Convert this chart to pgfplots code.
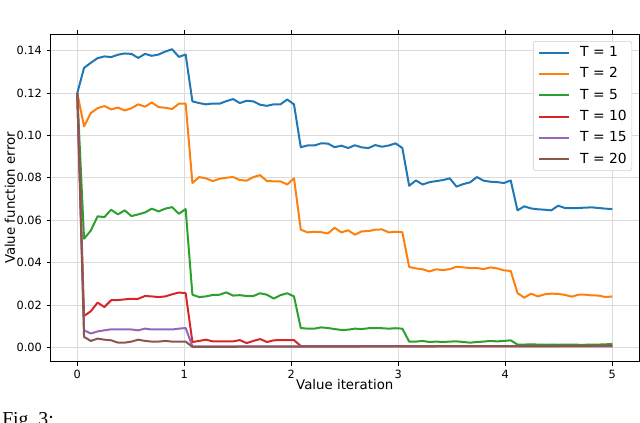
\documentclass[border=0pt]{standalone}
\usepackage{fontspec}
\setmainfont{DejaVu Sans}
\newfontfamily\capfont{Liberation Serif}
\usepackage{pgfplots}
\usepackage{pgfplotstable}
\pgfplotsset{compat=1.18}
\definecolor{cb}{HTML}{1F77B4}
\definecolor{co}{HTML}{FF7F0E}
\definecolor{cg}{HTML}{2CA02C}
\definecolor{cr}{HTML}{D62728}
\definecolor{cp}{HTML}{9467BD}
\definecolor{cw}{HTML}{8C564B}

\pgfplotstableread{
x b o g r p w
0.0000 0.1199 0.1199 0.1199 0.1199 0.1199 0.1199
0.0633 0.1318 0.1042 0.0512 0.0148 0.0080 0.0049
0.1266 0.1342 0.1105 0.0551 0.0170 0.0065 0.0030
0.1899 0.1364 0.1128 0.0618 0.0211 0.0075 0.0041
0.2532 0.1372 0.1138 0.0614 0.0190 0.0080 0.0036
0.3165 0.1369 0.1122 0.0649 0.0222 0.0085 0.0033
0.3797 0.1380 0.1131 0.0627 0.0223 0.0084 0.0022
0.4430 0.1386 0.1117 0.0646 0.0226 0.0085 0.0022
0.5063 0.1384 0.1128 0.0619 0.0229 0.0084 0.0027
0.5696 0.1365 0.1146 0.0627 0.0229 0.0080 0.0036
0.6329 0.1384 0.1135 0.0636 0.0242 0.0088 0.0030
0.6962 0.1375 0.1155 0.0654 0.0240 0.0084 0.0027
0.7595 0.1381 0.1133 0.0641 0.0237 0.0084 0.0027
0.8228 0.1395 0.1130 0.0654 0.0240 0.0085 0.0030
0.8861 0.1406 0.1124 0.0661 0.0250 0.0084 0.0027
0.9494 0.1370 0.1149 0.0630 0.0258 0.0088 0.0027
1.0127 0.1381 0.1150 0.0652 0.0256 0.0091 0.0027
1.0759 0.1160 0.0775 0.0248 0.0025 0.0005 0.0002
1.1392 0.1152 0.0803 0.0237 0.0030 0.0004 0.0002
1.2025 0.1146 0.0797 0.0240 0.0036 0.0004 0.0002
1.2658 0.1150 0.0784 0.0247 0.0028 0.0004 0.0002
1.3291 0.1149 0.0795 0.0248 0.0028 0.0004 0.0002
1.3924 0.1161 0.0800 0.0259 0.0028 0.0004 0.0002
1.4557 0.1171 0.0803 0.0244 0.0028 0.0004 0.0002
1.5190 0.1152 0.0789 0.0246 0.0034 0.0004 0.0003
1.5823 0.1163 0.0786 0.0242 0.0020 0.0004 0.0003
1.6456 0.1160 0.0803 0.0242 0.0030 0.0004 0.0003
1.7089 0.1144 0.0812 0.0255 0.0039 0.0004 0.0003
1.7722 0.1139 0.0784 0.0248 0.0025 0.0004 0.0003
1.8354 0.1146 0.0783 0.0230 0.0033 0.0004 0.0003
1.8987 0.1146 0.0783 0.0246 0.0034 0.0004 0.0003
1.9620 0.1169 0.0768 0.0255 0.0034 0.0004 0.0003
2.0253 0.1146 0.0797 0.0240 0.0034 0.0004 0.0003
2.0886 0.0944 0.0555 0.0091 0.0006 0.0004 0.0003
2.1519 0.0952 0.0542 0.0088 0.0005 0.0004 0.0003
2.2152 0.0952 0.0545 0.0088 0.0005 0.0004 0.0003
2.2785 0.0962 0.0543 0.0094 0.0005 0.0004 0.0003
2.3418 0.0961 0.0537 0.0091 0.0005 0.0004 0.0003
2.4051 0.0944 0.0564 0.0086 0.0005 0.0004 0.0003
2.4684 0.0951 0.0542 0.0082 0.0005 0.0004 0.0003
2.5316 0.0940 0.0552 0.0083 0.0005 0.0004 0.0003
2.5949 0.0953 0.0531 0.0088 0.0005 0.0004 0.0003
2.6582 0.0943 0.0547 0.0086 0.0005 0.0004 0.0004
2.7215 0.0940 0.0548 0.0090 0.0005 0.0004 0.0004
2.7848 0.0954 0.0555 0.0090 0.0005 0.0004 0.0004
2.8481 0.0946 0.0556 0.0090 0.0005 0.0004 0.0004
2.9114 0.0952 0.0542 0.0088 0.0005 0.0004 0.0004
2.9747 0.0962 0.0545 0.0090 0.0005 0.0004 0.0004
3.0380 0.0940 0.0543 0.0088 0.0005 0.0004 0.0004
3.1013 0.0762 0.0379 0.0027 0.0005 0.0004 0.0004
3.1646 0.0787 0.0372 0.0027 0.0005 0.0004 0.0004
3.2278 0.0768 0.0368 0.0030 0.0005 0.0004 0.0004
3.2911 0.0779 0.0358 0.0025 0.0005 0.0004 0.0004
3.3544 0.0784 0.0368 0.0027 0.0005 0.0004 0.0005
3.4177 0.0789 0.0364 0.0025 0.0005 0.0004 0.0005
3.4810 0.0797 0.0369 0.0027 0.0005 0.0004 0.0005
3.5443 0.0758 0.0380 0.0028 0.0005 0.0004 0.0005
3.6076 0.0770 0.0377 0.0025 0.0005 0.0004 0.0005
3.6709 0.0778 0.0374 0.0022 0.0005 0.0004 0.0005
3.7342 0.0803 0.0374 0.0025 0.0005 0.0004 0.0005
3.7975 0.0786 0.0369 0.0027 0.0005 0.0004 0.0005
3.8608 0.0781 0.0377 0.0030 0.0005 0.0004 0.0005
3.9241 0.0779 0.0372 0.0028 0.0005 0.0004 0.0005
3.9873 0.0775 0.0363 0.0030 0.0005 0.0004 0.0005
4.0506 0.0787 0.0360 0.0033 0.0005 0.0004 0.0005
4.1139 0.0646 0.0256 0.0013 0.0005 0.0004 0.0006
4.1772 0.0665 0.0234 0.0013 0.0005 0.0004 0.0006
4.2405 0.0655 0.0253 0.0014 0.0005 0.0004 0.0006
4.3038 0.0651 0.0240 0.0013 0.0005 0.0004 0.0006
4.3671 0.0649 0.0250 0.0012 0.0005 0.0004 0.0006
4.4304 0.0646 0.0253 0.0013 0.0005 0.0004 0.0006
4.4937 0.0668 0.0252 0.0012 0.0005 0.0004 0.0006
4.5570 0.0657 0.0247 0.0013 0.0005 0.0004 0.0007
4.6203 0.0657 0.0239 0.0013 0.0005 0.0004 0.0007
4.6835 0.0657 0.0248 0.0012 0.0005 0.0004 0.0007
4.7468 0.0659 0.0248 0.0012 0.0005 0.0004 0.0007
4.8101 0.0660 0.0245 0.0013 0.0005 0.0004 0.0007
4.8734 0.0657 0.0244 0.0013 0.0005 0.0004 0.0008
4.9367 0.0654 0.0237 0.0014 0.0005 0.0004 0.0008
5.0000 0.0652 0.0240 0.0016 0.0005 0.0004 0.0008
}\datatable

\begin{document}
\begin{tikzpicture}
\begin{axis}[
  at={(0,0)}, anchor=south west,
  scale only axis, width=441.4pt, height=245.5pt,
  xmin=-0.25, xmax=5.25, ymin=-0.0068, ymax=0.1476,
  xtick={0,1,2,3,4,5},
  ytick={0,0.02,0.04,0.06,0.08,0.1,0.12,0.14},
  scaled y ticks=false,
  yticklabel style={/pgf/number format/.cd, fixed, fixed zerofill, precision=2},
  /pgf/number format/assume math mode=true,
  ticklabel style={font=\fontsize{8.5}{10}\selectfont},
  tick align=outside, major tick length=3pt,
  tick style={black, line width=0.6pt},
  axis line style={black, line width=0.6pt},
  grid=major, major grid style={black!14, line width=0.6pt},
  xlabel={Value iteration}, ylabel={Value function error},
  label style={font=\fontsize{11}{13}\selectfont},
  every axis x label/.style={at={([yshift=-17.3pt]axis description cs:0.5,0)}, anchor=center},
  every axis y label/.style={at={([xshift=-30.4pt]axis description cs:0,0.5)}, anchor=center, rotate=90},
  legend cell align=left,
  legend image code/.code={\draw[#1] (0pt,0pt) -- (22.5pt,0pt);},
  legend style={at={(1,1)}, anchor=north east, xshift=-5.25pt, yshift=-5pt,
    draw=black!20, rounded corners=2pt, fill=white,
    font=\fontsize{10.4}{12}\selectfont,
    inner xsep=3.75pt, inner ysep=3.5pt, column sep=7.5pt, row sep=6pt,
    nodes={inner sep=0pt, text height=8pt, text depth=2pt}},
  every axis plot/.append style={line width=1.5pt, line join=round},
]
\addplot[cb] table[x=x, y=b] {\datatable};
\addplot[co] table[x=x, y=o] {\datatable};
\addplot[cg] table[x=x, y=g] {\datatable};
\addplot[cr] table[x=x, y=r] {\datatable};
\addplot[cp] table[x=x, y=p] {\datatable};
\addplot[cw] table[x=x, y=w] {\datatable};
\legend{T = 1, T = 2, T = 5, T = 10, T = 15, T = 20}
\end{axis}
\begin{scope}
\clip (-37.9pt,-45.9pt) rectangle (442.1pt,271.3pt);
\node[anchor=base west, inner sep=0pt, font=\capfont\fontsize{14.8}{17}\selectfont] at (-36.4pt,-48.2pt) {Fig.~3:};
\end{scope}
\pgfresetboundingbox
\useasboundingbox (-37.9pt,-45.9pt) rectangle (442.1pt,271.3pt);
\end{tikzpicture}
\end{document}
